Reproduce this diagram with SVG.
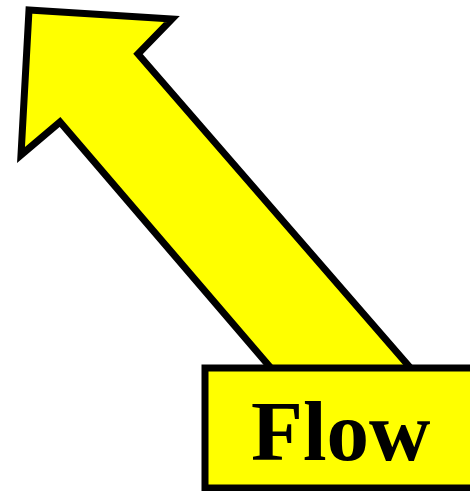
<svg xmlns="http://www.w3.org/2000/svg" width="470" height="491" viewBox="0 0 470 491">
<style>
.shape{fill:#ffff00;stroke:#000;stroke-width:7;stroke-linejoin:miter}
.label{font-family:"Liberation Serif","Times New Roman",serif;font-weight:bold;font-size:85px;fill:#000}
</style>
<g id="connectors">
<polygon id="arrow" class="shape" points="29,10 172,19 138,54 440,402 300,402 60,122 21,155"/>
</g>
<g id="flow">
<rect class="shape" x="205" y="368" width="290" height="120"/>
<text class="label" x="251" y="460">Flow</text>
</g>
</svg>
